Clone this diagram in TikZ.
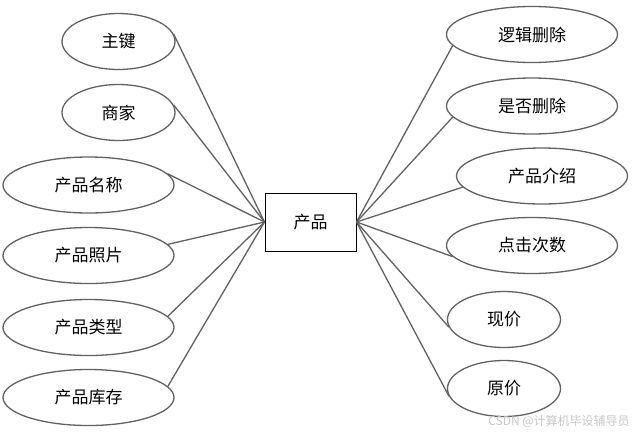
\documentclass[tikz,border=0pt]{standalone}
\usepackage{fontspec}
\newfontfamily\cjk{Noto Sans CJK SC}
\usetikzlibrary{shapes.geometric}
\tikzset{
  attr/.style={ellipse,draw=black!62,line width=1.3pt,minimum width=113pt,minimum height=56pt,inner sep=0pt,font=\cjk\fontsize{17}{17}\selectfont},
  wattr/.style={attr,minimum width=171pt},
  ent/.style={draw,line width=1pt,minimum width=91pt,minimum height=58pt,inner sep=0pt,font=\cjk\fontsize{17}{17}\selectfont},
  link/.style={draw=black!62,line width=1.3pt}
}
\begin{document}
\begin{tikzpicture}[x=1pt,y=-1pt]
    \useasboundingbox (0,0) rectangle (634,432);
    \node[ent] (cp) at (310.5,222) {产品};
    \node[attr] (zj) at (118.5,41.5) {主键};
    \node[attr] (sj) at (118.5,112.5) {商家};
    \node[wattr] (mc) at (88.5,185) {产品名称};
    \node[wattr] (zp) at (88.5,255.5) {产品照片};
    \node[wattr] (lx) at (88.5,327.5) {产品类型};
    \node[wattr] (kc) at (88.5,397.5) {产品库存};
    \node[wattr] (lj) at (532,34.5) {逻辑删除};
    \node[wattr] (sf) at (532,106) {是否删除};
    \node[wattr] (js) at (542,176) {产品介绍};
    \node[wattr] (dj) at (532,245.5) {点击次数};
    \node[attr] (xj) at (504,319.5) {现价};
    \node[attr] (yj) at (504,388.5) {原价};
    \foreach \n in {zj,sj,mc,zp,lx,kc} \draw[link] (\n.8) -- (cp.west);
    \foreach \n in {lj,sf,js,dj,xj,yj} \draw[link] (cp.east) -- (\n.188);
    \node[text=black!22,font=\cjk\fontsize{12}{12}\selectfont] (wm) at (559,421) {CSDN @计算机毕设辅导员};
\end{tikzpicture}
\end{document}
